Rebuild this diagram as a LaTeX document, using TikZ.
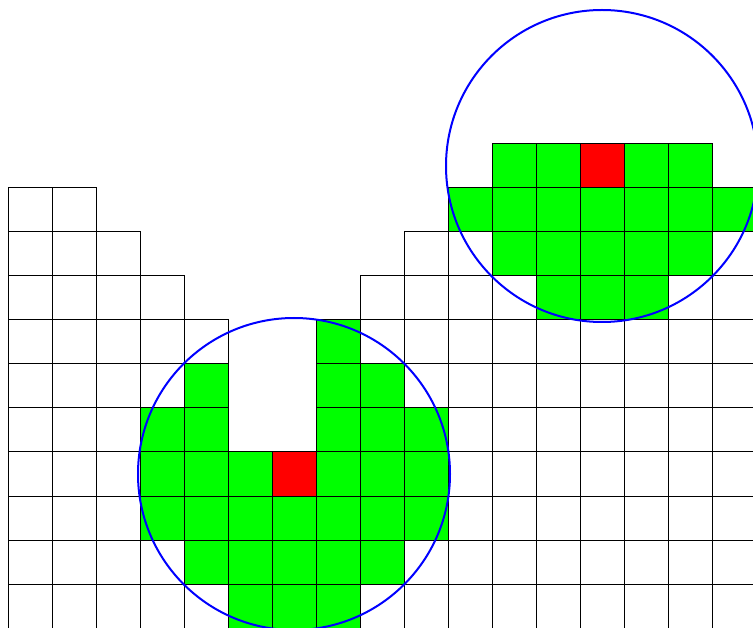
\documentclass[tikz,border=0pt]{standalone}
\definecolor{cellgreen}{RGB}{0,255,0}
\definecolor{cellred}{RGB}{255,0,0}
\definecolor{ringblue}{RGB}{0,0,255}
\tikzset{
  cell/.style={draw=black, line width=1pt},
  ring/.style={draw=ringblue, line width=2pt}
}
\begin{document}
\begin{tikzpicture}[x=1pt, y=-1pt]
\useasboundingbox (0,0) rectangle (753,628);
\clip (0,0) rectangle (753,628);
\foreach \c/\t in {0/1,1/1,2/2,3/3,4/4,5/7,6/7,7/4,8/3,9/2,10/1,11/0,12/0,13/0,14/0,15/0,16/1} {
  \foreach \r in {\t,...,10} {
    \pgfmathtruncatemacro\dA{(\c-6)*(\c-6)+(\r-7)*(\r-7)}
    \pgfmathtruncatemacro\dB{(\c-13)*(\c-13)+\r*\r}
    \pgfmathtruncatemacro\dd{min(\dA,\dB)}
    \ifnum\dd=0 \def\fc{cellred}\else\ifnum\dd<13 \def\fc{cellgreen}\else\def\fc{white}\fi\fi
    \draw[cell, fill=\fc] (8+44*\c, 144+44*\r) rectangle ++(44,44);
  }
}
\coordinate (lowc) at (294,474);
\coordinate (upc) at (602,166);
\draw[ring] (lowc) circle[radius=156];
\draw[ring] (upc) circle[radius=156];
\end{tikzpicture}
\end{document}
